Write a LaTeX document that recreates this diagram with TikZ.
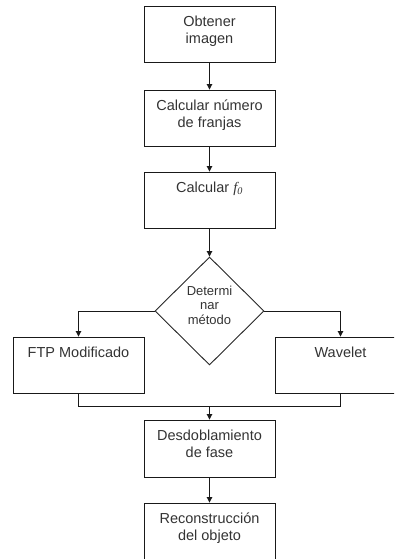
\documentclass[tikz,border=0pt]{standalone}
\usepackage{fontspec}
\setmainfont{Liberation Sans}
\newfontfamily\serifit{Liberation Serif}
\usetikzlibrary{arrows.meta,shapes.geometric}

\tikzset{
  x=1pt, y=-1pt,
  stepbox/.style={draw=black!90, line width=0.9pt, rectangle,
    minimum width=131pt, minimum height=56pt, inner sep=0pt},
  boxtext/.style={anchor=north, yshift=-7pt, align=center, text=black!80,
    font=\fontsize{14.5}{17}\selectfont},
  choice/.style={draw=black!85, line width=0.9pt, diamond, aspect=1,
    minimum width=109pt, minimum height=108pt, inner sep=0pt,
    align=center, text=black!80, font=\fontsize{13}{14.5}\selectfont},
  flow/.style={draw=black!90, line width=0.9pt,
    -{Triangle[length=5.5pt,width=5.5pt]}},
  link/.style={draw=black!90, line width=0.9pt},
}

\begin{document}
\begin{tikzpicture}
\useasboundingbox (0,0) rectangle (394,559);
\clip (0,0) rectangle (394,559);

% main column of steps
\node[stepbox, label={[boxtext]north:{Obtener\\imagen}}] (obt) at (209.5,34) {};
\node[stepbox, label={[boxtext]north:{Calcular número\\de franjas}}] (num) at (209.5,118) {};
\node[stepbox, label={[boxtext]north:{Calcular {\serifit\itshape f\textsubscript{0}}}}] (f0) at (209.5,200) {};
\node[choice] (met) at (209.5,311) {\raisebox{0pt}{}Determi\\nar\\método\\[-3pt]};

% the two methods
\node[stepbox, label={[boxtext]north:{FTP Modificado}}] (ftp) at (78.5,365) {};
\node[stepbox, label={[boxtext]north:{Wavelet}}] (wav) at (340.5,365) {};

% after the merge
\node[stepbox, minimum height=57pt, label={[boxtext]north:{Desdoblamiento\\de fase}}] (des) at (209.5,448.5) {};
\node[stepbox, label={[boxtext]north:{Reconstrucción\\del objeto}}] (rec) at (209.5,531) {};

% connectors
\draw[flow] (obt) -- (num);
\draw[flow] (num) -- (f0);
\draw[flow] (f0) -- (met);
\draw[flow] (met.west) -| (ftp.north);
\draw[flow] (met.east) -| (wav.north);

\coordinate (mergeL) at (78.5,406);
\coordinate (mergeR) at (340.5,406);
\coordinate (mergeC) at (209.5,406);
\draw[link] (ftp.south) -- (mergeL) -- (mergeR) -- (wav.south);
\draw[flow] (mergeC) -- (des.north);
\draw[flow] (des) -- (rec);
\end{tikzpicture}
\end{document}
